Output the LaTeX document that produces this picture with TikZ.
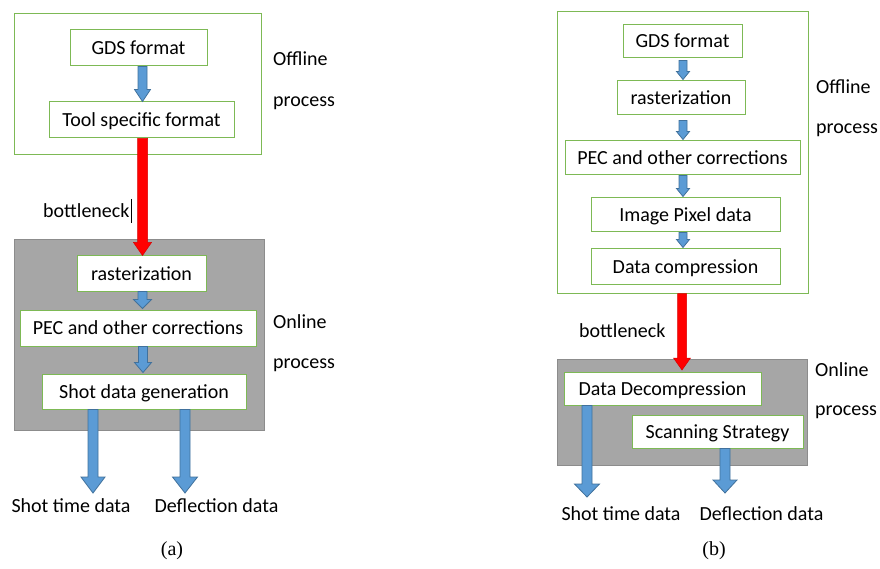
\documentclass[tikz,border=0pt]{standalone}
\usepackage{fontspec}
\setmainfont{Carlito}
\newfontfamily\capfont{Liberation Serif}
\usetikzlibrary{calc}
\definecolor{boxgreen}{RGB}{125,185,85}
\definecolor{arrblue}{RGB}{91,155,213}
\definecolor{arrblueline}{RGB}{65,113,156}
\definecolor{panelgray}{RGB}{166,166,166}
\definecolor{panelline}{RGB}{140,140,140}
\newcommand{\blockarrow}[6]{%
  \path[#1] let \p1=#2, \p2=#3 in
    (\x1-#4,\y1) -- (\x1+#4,\y1) -- (\x1+#4,\y2+#6) -- (\x1+#5,\y2+#6) --
    (\x1,\y2) -- (\x1-#5,\y2+#6) -- (\x1-#4,\y2+#6) -- cycle;}
\begin{document}
\begin{tikzpicture}[x=1pt,y=-1pt,font=\fontsize{20}{24}\selectfont,
  stepbox/.style={draw=boxgreen,fill=white,line width=1pt,inner sep=0pt,text height=13pt,text depth=0pt},
  frame/.style={draw=boxgreen,line width=1pt,inner sep=0pt},
  panel/.style={draw=panelline,fill=panelgray,line width=1pt,inner sep=0pt},
  lbl/.style={inner sep=0pt,text height=13pt,text depth=0pt},
  bluearr/.style={fill=arrblue,draw=arrblueline,line width=0.8pt},
  redarr/.style={fill=red,draw=red!85!black,line width=0.5pt}]
\useasboundingbox (0,0) rectangle (880,569);
% ---------- panel (a) ----------
\node[frame,minimum width=247pt,minimum height=141pt] (offA) at (137.5,84.5) {};
\node[panel,minimum width=250pt,minimum height=190pt] (onA) at (139,335) {};
\node[stepbox,minimum width=137pt,minimum height=36pt] (gdsA) at (138.5,48) {GDS format};
\node[stepbox,minimum width=185pt,minimum height=36pt] (toolA) at (141.5,120) {Tool specific format};
\node[stepbox,minimum width=129pt,minimum height=35pt] (rastA) at (141.5,273.5) {rasterization};
\node[stepbox,minimum width=236pt,minimum height=36pt] (pecA) at (138,328) {PEC and other corrections};
\node[stepbox,minimum width=204pt,minimum height=35pt] (shotA) at (144,391.5) {Shot data generation};
\coordinate (xa1) at (142.5,0);
\coordinate (xa2) at (143,0);
\coordinate (tA1) at (93,493);
\coordinate (tA2) at (185,493);
\blockarrow{bluearr}{(xa1 |- gdsA.south)}{(xa1 |- toolA.north)}{4.5pt}{8pt}{12pt}
\blockarrow{redarr}{(xa1 |- toolA.south)}{(xa1 |- rastA.north)}{5pt}{9pt}{13pt}
\blockarrow{bluearr}{(xa1 |- rastA.south)}{($(xa1 |- pecA.north)+(0,-1)$)}{4.5pt}{9pt}{9pt}
\blockarrow{bluearr}{(xa2 |- pecA.south)}{($(xa2 |- shotA.north)+(0,-1)$)}{4.5pt}{8.5pt}{10pt}
\blockarrow{bluearr}{(tA1 |- shotA.south)}{(tA1)}{5pt}{12pt}{16pt}
\blockarrow{bluearr}{(tA2 |- shotA.south)}{(tA2)}{5pt}{12.5pt}{16pt}
\node[lbl,anchor=west] (offlA1) at (273,59) {Offline};
\node[lbl,anchor=west] (offlA2) at (273,100) {process};
\node[lbl,anchor=west] (onlA1) at (273,322) {Online};
\node[lbl,anchor=west] (onlA2) at (273,362) {process};
\node[lbl,anchor=west] (bnA) at (43,211) {bottleneck};
\coordinate (curT) at (131,199);
\coordinate (curB) at (131,223);
\draw[line width=0.8pt] (curT) -- (curB);
\node[lbl] (stA) at (71,506) {Shot time data};
\node[lbl] (dfA) at (216.5,506) {Deflection data};
\node[font=\capfont\fontsize{20}{24}\selectfont,inner sep=0pt] (capA) at (172,551) {(a)};
% ---------- panel (b) ----------
\node[frame,minimum width=251pt,minimum height=281pt] (offB) at (682.5,152.5) {};
\node[panel,minimum width=250pt,minimum height=106pt] (onB) at (682,412) {};
\node[stepbox,minimum width=119pt,minimum height=33pt] (gdsB) at (682.5,41.5) {GDS format};
\node[stepbox,minimum width=128pt,minimum height=34pt] (rastB) at (681,98) {rasterization};
\node[stepbox,minimum width=235pt,minimum height=34pt] (pecB) at (682.5,158) {PEC and other corrections};
\node[stepbox,minimum width=189pt,minimum height=34pt] (imgB) at (685.5,215) {Image Pixel data};
\node[stepbox,minimum width=189pt,minimum height=35pt] (compB) at (685.5,266.5) {Data compression};
\node[stepbox,minimum width=197pt,minimum height=33pt] (decB) at (662.5,388.5) {Data Decompression};
\node[stepbox,minimum width=171pt,minimum height=33pt] (scanB) at (717.5,431.5) {Scanning Strategy};
\coordinate (xb) at (683,0);
\coordinate (xr) at (682,370);
\coordinate (tB1) at (587,497);
\coordinate (tB2) at (725,493);
\blockarrow{bluearr}{($(xb |- gdsB.south)+(0,2)$)}{($(xb |- rastB.north)+(0,-1)$)}{4pt}{6.5pt}{8pt}
\blockarrow{bluearr}{($(xb |- rastB.south)+(0,5)$)}{($(xb |- pecB.north)+(0,-1)$)}{4pt}{6.5pt}{8pt}
\blockarrow{bluearr}{(xb |- pecB.south)}{($(xb |- imgB.north)+(0,-1)$)}{4pt}{6.5pt}{8pt}
\blockarrow{bluearr}{(xb |- imgB.south)}{($(xb |- compB.north)+(0,-1)$)}{4pt}{6.5pt}{8pt}
\blockarrow{redarr}{(xr |- offB.south)}{(xr)}{4.5pt}{8.5pt}{12pt}
\blockarrow{bluearr}{(tB1 |- decB.south)}{(tB1)}{5pt}{12.5pt}{13pt}
\blockarrow{bluearr}{(tB2 |- scanB.south)}{(tB2)}{5pt}{12pt}{13pt}
\node[lbl,anchor=west] (offlB1) at (816,87) {Offline};
\node[lbl,anchor=west] (offlB2) at (816,127) {process};
\node[lbl,anchor=west] (onlB1) at (815,370) {Online};
\node[lbl,anchor=west] (onlB2) at (815,409) {process};
\node[lbl,anchor=west] (bnB) at (579,331) {bottleneck};
\node[lbl] (stB) at (621,513.5) {Shot time data};
\node[lbl] (dfB) at (761.5,513.5) {Deflection data};
\node[font=\capfont\fontsize{20}{24}\selectfont,inner sep=0pt] (capB) at (714,551) {(b)};
\end{tikzpicture}
\end{document}
